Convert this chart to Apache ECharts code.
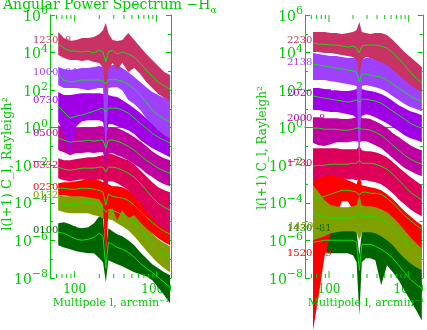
<!DOCTYPE html>
<html><head><meta charset="utf-8">
<script src="https://cdn.jsdelivr.net/npm/echarts@6/dist/echarts.min.js"></script>
<style>html,body{margin:0;padding:0;background:#fff}#c{width:427px;height:330px}</style>
</head><body><div id="c"></div>
<script>
// Multipole l (arcmin^-1) sample points shared by every band
const multipole = [63,74,88,105,123,146,172,200,222,240,258,290,330,381,451,534,632,748,885,1047,1240,1460];
// All band values below are log10 of l(l+1)C_l [Rayleigh^2]: upper edge, centre, lower edge
// ---- left panel ----
const L1230_hi = [5.09,4.78,4.62,4.67,4.78,4.78,4.83,4.99,5.20,5.57,5.04,4.67,4.62,4.67,5.04,4.67,4.30,3.92,3.60,3.28,2.96,2.80];
const L1230_mid = [4.45,4.24,4.08,4.08,4.03,4.08,3.98,4.13,4.03,3.50,4.03,4.13,3.92,4.03,3.92,3.76,3.44,3.07,2.75,2.43,2.22,2.06];
const L1230_lo = [3.87,3.71,3.60,3.60,3.55,3.60,3.50,3.44,3.18,1.58,3.07,3.44,3.07,3.44,2.96,3.18,2.86,2.43,2.11,1.79,1.58,1.42];
const L1000_hi = [3.23,3.12,3.07,3.12,3.18,3.18,3.23,3.28,3.23,2.96,3.28,3.34,3.34,3.18,2.96,2.70,2.43,2.16,1.90,1.74,1.58,1.47];
const L1000_mid = [2.80,2.54,2.43,2.48,2.54,2.54,2.54,2.54,2.48,2.32,2.54,2.59,2.54,2.48,2.32,2.06,1.74,1.36,0.94,0.67,0.46,0.30];
const L1000_lo = [2.27,2.11,2.11,2.11,2.06,2.00,2.06,2.11,2.11,-1.62,2.11,2.16,2.16,2.00,1.47,1.26,0.94,0.51,0.19,-0.13,-0.40,-0.56];
const L0730_hi = [1.90,1.74,1.74,1.79,1.84,1.84,1.84,1.84,1.79,1.74,1.74,1.68,1.63,1.47,1.26,1.04,0.78,0.51,0.24,0.03,-0.13,-0.29];
const L0730_mid = [1.15,0.83,0.51,0.62,0.67,0.78,0.88,0.99,1.04,0.83,1.04,1.04,1.04,0.94,0.78,0.51,0.24,-0.02,-0.29,-0.50,-0.66,-0.82];
const L0730_lo = [0.30,-0.24,-1.35,0.08,0.35,0.40,0.40,0.40,0.30,-0.66,0.19,0.19,0.08,-0.02,-0.13,-0.34,-0.66,-0.88,-1.09,-1.25,-1.41,-1.57];
const L0500_hi = [0.14,-0.02,-0.13,-0.02,0.03,0.03,0.03,0.08,0.08,-0.24,0.03,0.03,-0.02,-0.13,-0.29,-0.50,-0.72,-0.98,-1.25,-1.46,-1.62,-1.73];
const L0500_mid = [-0.56,-0.66,-0.77,-0.72,-0.72,-0.66,-0.72,-0.66,-0.66,-1.09,-0.66,-0.66,-0.72,-0.82,-0.98,-1.20,-1.46,-1.73,-1.94,-2.15,-2.31,-2.42];
const L0500_lo = [-1.20,-1.30,-1.46,-1.35,-1.35,-1.30,-1.35,-1.30,-1.30,-2.26,-1.35,-1.35,-1.46,-1.57,-1.73,-1.94,-2.15,-2.42,-2.63,-2.85,-3.01,-3.11];
const L0332_hi = [-1.62,-1.73,-1.73,-1.67,-1.62,-1.57,-1.57,-1.51,-1.46,-1.62,-1.35,-1.41,-1.51,-1.62,-1.73,-1.94,-2.26,-2.58,-2.90,-3.17,-3.33,-3.43];
const L0332_mid = [-2.10,-2.21,-2.26,-2.21,-2.15,-2.15,-2.15,-2.10,-2.10,-2.37,-2.10,-2.10,-2.15,-2.26,-2.42,-2.63,-2.95,-3.33,-3.70,-4.02,-4.23,-4.39];
const L0332_lo = [-2.69,-2.79,-2.85,-2.79,-2.74,-2.79,-2.79,-2.74,-2.79,-3.22,-2.85,-2.85,-2.95,-3.11,-3.33,-3.65,-4.02,-4.45,-4.82,-5.19,-5.41,-5.57];
const L0230_hi = [-2.95,-2.90,-2.90,-2.85,-2.79,-2.69,-2.74,-2.79,-2.90,-2.79,-3.01,-3.11,-3.11,-3.17,-3.33,-3.59,-3.91,-4.23,-4.50,-4.77,-4.98,-5.14];
const L0230_mid = [-3.22,-3.22,-3.27,-3.27,-3.22,-3.22,-3.27,-3.33,-3.43,-4.13,-3.54,-3.65,-3.70,-3.75,-3.86,-4.13,-4.45,-4.77,-5.03,-5.30,-5.51,-5.67];
const L0230_lo = [-3.59,-3.59,-3.65,-3.65,-3.65,-3.70,-3.75,-3.81,-4.13,-7.22,-4.39,-4.29,-4.93,-4.39,-4.82,-4.66,-5.03,-5.35,-5.62,-5.89,-6.10,-6.26];
const L0132_hi = [-3.59,-3.65,-3.65,-3.59,-3.49,-3.33,-3.43,-3.65,-3.75,-3.86,-3.86,-3.91,-4.02,-4.13,-4.29,-4.55,-4.87,-5.25,-5.62,-5.94,-6.15,-6.31];
const L0132_mid = [-4.02,-4.07,-4.13,-4.07,-4.02,-3.97,-4.02,-4.18,-4.29,-4.50,-4.34,-4.39,-4.50,-4.61,-4.77,-5.03,-5.41,-5.78,-6.15,-6.47,-6.74,-6.95];
const L0132_lo = [-4.39,-4.50,-4.55,-4.55,-4.55,-4.55,-4.66,-4.71,-4.82,-5.03,-4.87,-4.93,-5.09,-5.25,-5.46,-5.78,-6.15,-6.53,-6.90,-7.22,-7.48,-7.70];
const L0100_hi = [-5.09,-5.03,-5.14,-5.30,-5.35,-5.30,-5.09,-4.71,-4.82,-6.53,-5.35,-5.51,-5.67,-5.78,-5.99,-6.26,-6.63,-6.95,-7.27,-7.48,-7.70,-7.86];
const L0100_mid = [-5.57,-5.62,-5.78,-5.94,-5.99,-5.94,-5.83,-5.62,-5.78,-7.48,-6.10,-6.21,-6.37,-6.47,-6.63,-6.90,-7.22,-7.48,-7.70,-7.96,-8.23,-8.50];
const L0100_lo = [-6.26,-6.37,-6.47,-6.58,-6.63,-6.68,-6.68,-6.95,-7.16,-8.23,-7.06,-7.16,-7.27,-7.38,-7.54,-7.70,-7.80,-7.91,-8.12,-8.50,-8.92,-9.35];
// ---- right panel ----
const R2230_hi = [5.09,5.09,5.09,5.04,5.04,4.99,5.04,5.09,5.20,5.63,5.09,5.04,4.99,5.04,5.04,4.93,4.67,4.35,4.03,3.76,3.50,3.23];
const R2230_mid = [4.51,4.45,4.45,4.40,4.40,4.35,4.29,4.35,4.24,3.98,4.35,4.40,4.40,4.40,4.35,4.24,3.98,3.66,3.34,2.96,2.64,2.38];
const R2230_lo = [4.03,4.03,3.98,3.98,3.92,3.87,3.82,3.76,3.60,2.70,3.60,3.76,3.71,3.60,3.50,3.34,3.07,2.80,2.54,2.27,2.06,1.90];
const R2138_hi = [3.98,3.92,3.87,3.82,3.82,3.76,3.71,3.71,3.71,3.50,3.66,3.71,3.71,3.66,3.55,3.39,3.18,2.96,2.75,2.54,2.38,2.22];
const R2138_mid = [3.39,3.34,3.28,3.23,3.18,3.12,3.07,3.02,2.96,2.43,2.86,2.86,2.80,2.75,2.70,2.54,2.32,2.11,1.90,1.68,1.52,1.42];
const R2138_lo = [2.54,2.54,2.54,2.48,2.43,2.38,2.32,2.27,2.22,-2.37,2.22,2.27,2.22,2.16,2.06,1.90,1.68,1.47,1.26,1.10,0.99,0.88];
const R2020_hi = [2.11,2.11,2.06,2.00,2.00,1.95,1.95,2.00,2.06,2.22,2.06,2.00,1.95,1.90,1.79,1.63,1.42,1.20,1.04,0.88,0.78,0.67];
const R2020_mid = [1.68,1.63,1.58,1.52,1.47,1.42,1.36,1.42,1.47,1.36,1.52,1.52,1.47,1.42,1.31,1.10,0.88,0.67,0.46,0.24,0.08,-0.02];
const R2020_lo = [0.94,0.94,0.88,0.83,0.83,0.78,0.72,0.67,0.51,0.14,0.62,0.72,0.67,0.56,0.40,0.24,0.03,-0.18,-0.40,-0.56,-0.66,-0.77];
const R2000_hi = [0.56,0.56,0.51,0.51,0.51,0.46,0.46,0.51,0.56,0.62,0.51,0.51,0.46,0.35,0.19,-0.02,-0.29,-0.50,-0.72,-0.93,-1.09,-1.20];
const R2000_mid = [-0.02,-0.02,-0.08,-0.08,-0.08,-0.13,-0.13,-0.08,-0.02,-0.02,-0.08,-0.08,-0.13,-0.24,-0.40,-0.66,-0.93,-1.20,-1.46,-1.67,-1.83,-1.94];
const R2000_lo = [-0.82,-0.93,-0.98,-0.88,-0.77,-0.77,-0.77,-0.72,-0.72,-0.77,-0.72,-0.72,-0.82,-0.93,-1.09,-1.35,-1.62,-1.89,-2.15,-2.31,-2.47,-2.58];
const R1730_hi = [-1.09,-1.09,-1.09,-1.09,-1.09,-1.14,-1.14,-1.14,-1.14,-0.98,-1.20,-1.25,-1.25,-1.30,-1.41,-1.57,-1.83,-2.10,-2.37,-2.63,-2.85,-3.06];
const R1730_mid = [-2.05,-2.00,-2.00,-1.94,-1.94,-1.94,-1.94,-1.89,-1.89,-1.73,-1.89,-1.89,-1.89,-1.94,-2.05,-2.21,-2.47,-2.79,-3.11,-3.43,-3.65,-3.86];
const R1730_lo = [-2.79,-2.69,-2.58,-2.53,-2.58,-2.69,-2.74,-2.74,-2.79,-2.69,-2.79,-2.79,-2.85,-2.90,-3.01,-3.22,-3.49,-3.81,-4.07,-4.34,-4.55,-4.71];
const R1520_hi = [-2.63,-2.42,-2.26,-2.15,-2.37,-2.63,-2.79,-2.90,-3.01,-2.42,-3.06,-3.11,-3.17,-3.22,-3.33,-3.54,-3.81,-4.13,-4.45,-4.71,-4.98,-5.19];
const R1520_mid = [-3.86,-3.75,-3.65,-3.54,-3.43,-3.33,-3.33,-3.38,-3.43,-3.59,-3.43,-3.43,-3.49,-3.49,-3.54,-3.75,-4.02,-4.34,-4.66,-4.93,-5.19,-5.41];
const R1520_lo = [-10.79,-8.98,-6.84,-5.67,-4.66,-3.91,-3.91,-4.39,-4.61,-5.57,-4.61,-4.50,-4.50,-4.55,-4.66,-4.87,-5.25,-5.73,-6.15,-6.47,-6.74,-6.90];
const R1450_hi = [-3.06,-3.43,-3.86,-4.13,-4.18,-4.23,-4.23,-4.18,-4.13,-3.59,-4.13,-4.18,-4.18,-4.23,-4.34,-4.50,-4.77,-5.09,-5.46,-5.83,-6.15,-6.42];
const R1450_mid = [-4.55,-4.66,-4.77,-4.82,-4.82,-4.82,-4.82,-4.77,-4.71,-4.50,-4.71,-4.71,-4.71,-4.77,-4.87,-5.03,-5.30,-5.62,-5.99,-6.37,-6.68,-6.95];
const R1450_lo = [-5.99,-5.89,-5.78,-5.62,-5.57,-5.51,-5.51,-5.51,-5.57,-5.99,-5.57,-5.57,-5.57,-5.62,-5.78,-5.99,-6.26,-6.63,-6.95,-7.22,-7.43,-7.59];
const R1430_hi = [-5.78,-5.67,-5.62,-5.57,-5.51,-5.46,-5.41,-5.41,-5.57,-6.79,-5.57,-5.41,-5.41,-5.51,-5.67,-5.89,-6.15,-6.47,-6.79,-7.11,-7.32,-7.54];
const R1430_mid = [-6.10,-6.05,-5.99,-5.99,-5.99,-5.99,-5.99,-5.99,-6.10,-7.59,-6.21,-6.21,-6.21,-6.31,-6.47,-6.68,-6.95,-7.32,-7.70,-8.07,-8.34,-8.55];
const R1430_lo = [-6.63,-6.63,-6.63,-6.68,-6.68,-6.68,-6.68,-6.79,-7.16,-9.99,-7.16,-6.95,-6.95,-7.06,-8.39,-7.32,-7.70,-8.12,-8.66,-9.19,-9.72,-10.26];

// axis ticks (x: multipole, y: log10 decades labelled 10^n)
const xMajorTicks = [100, 1000];
const xMinorTicks = [60,70,80,90,200,300,400,500,600,700,800,900];
const yMinExp = -8, yMaxExp = 6, yStepExp = 2;

const GREEN = '#00c800';
const LINE = '#10e010';
const SERIF = '"DejaVu Serif", serif';
const COL = {crimson:'#c83264', lilac:'#a040ff', purple:'#a000e6', magenta:'#be00a0', pink:'#dc005a', red:'#ff0000', olive:'#80a000', dkgreen:'#006400'};

// drawing order: bottom band first
const leftBands = [
  ['0100', L0100_hi, L0100_mid, L0100_lo, COL.dkgreen],
  ['0132', L0132_hi, L0132_mid, L0132_lo, COL.olive],
  ['0230', L0230_hi, L0230_mid, L0230_lo, COL.red],
  ['0332', L0332_hi, L0332_mid, L0332_lo, COL.pink],
  ['0500', L0500_hi, L0500_mid, L0500_lo, COL.magenta],
  ['0730', L0730_hi, L0730_mid, L0730_lo, COL.purple],
  ['1000', L1000_hi, L1000_mid, L1000_lo, COL.lilac],
  ['1230', L1230_hi, L1230_mid, L1230_lo, COL.crimson]
];
const rightBands = [
  ['1430', R1430_hi, R1430_mid, R1430_lo, COL.dkgreen],
  ['1520', R1520_hi, R1520_mid, R1520_lo, COL.red],
  ['1450', R1450_hi, R1450_mid, R1450_lo, COL.olive],
  ['1730', R1730_hi, R1730_mid, R1730_lo, COL.pink],
  ['2000', R2000_hi, R2000_mid, R2000_lo, COL.magenta],
  ['2020', R2020_hi, R2020_mid, R2020_lo, COL.purple],
  ['2138', R2138_hi, R2138_mid, R2138_lo, COL.lilac],
  ['2230', R2230_hi, R2230_mid, R2230_lo, COL.crimson]
];

function bandSeries(g, b) {
  const [name, hi, mid, lo, color] = b;
  return [{
    type: 'custom', name: name + ' band', xAxisIndex: g*2, yAxisIndex: g*2, silent: true, clip: false,
    data: [[100, 0]],
    renderItem: (params, api) => {
      const top = multipole.map((l, i) => api.coord([l, hi[i]]));
      const bot = multipole.map((l, i) => api.coord([l, lo[i]])).reverse();
      return { type: 'polygon', shape: { points: top.concat(bot) }, style: { fill: color } };
    }
  }, {
    type: 'line', name: name, xAxisIndex: g*2, yAxisIndex: g*2, silent: true, clip: false,
    symbol: 'none', lineStyle: { color: LINE, width: 1 },
    data: multipole.map((l, i) => [l, mid[i]])
  }];
}

function tickSeries(g) {
  const data = xMajorTicks.map(v => [v, 7]).concat(xMinorTicks.map(v => [v, 4]));
  return {
    type: 'custom', xAxisIndex: g*2, yAxisIndex: g*2, silent: true, clip: false, data, z: 5,
    renderItem: (params, api) => {
      const l = api.value(0), len = api.value(1);
      const b = api.coord([l, yMinExp]), t = api.coord([l, yMaxExp]);
      return { type: 'group', children: [
        { type: 'line', shape: { x1: b[0], y1: b[1], x2: b[0], y2: b[1] - len }, style: { stroke: GREEN, lineWidth: 1 } },
        { type: 'line', shape: { x1: t[0], y1: t[1], x2: t[0], y2: t[1] + len }, style: { stroke: GREEN, lineWidth: 1 } }
      ]};
    }
  };
}

const grids = [
  { left: 50, top: 15, width: 121, height: 263 },
  { left: 305, top: 15, width: 121, height: 263 }
];

function xAxesFor(g) {
  const base = { type: 'log', logBase: 10, min: 50, max: 1500, gridIndex: g,
    axisLine: { show: true, lineStyle: { color: GREEN, width: 1 } },
    axisTick: { show: false }, splitLine: { show: false } };
  return [
    Object.assign({}, base, { position: 'bottom', axisLabel: { show: true, color: GREEN, fontFamily: SERIF, fontSize: 12, margin: 6,
      formatter: v => (Math.abs(Math.log10(v) - Math.round(Math.log10(v))) < 1e-6 ? String(Math.round(v)) : '') } }),
    Object.assign({}, base, { position: 'top', axisLabel: { show: false } })
  ];
}
function yAxesFor(g) {
  const base = { type: 'value', min: yMinExp, max: yMaxExp, interval: yStepExp, gridIndex: g,
    axisLine: { show: true, lineStyle: { color: GREEN, width: 1 } },
    axisTick: { show: true, inside: true, length: 5, lineStyle: { color: GREEN } },
    minorTick: { show: true, splitNumber: 2, length: 3, lineStyle: { color: GREEN } },
    splitLine: { show: false }, minorSplitLine: { show: false } };
  return [
    Object.assign({}, base, { position: 'left', axisLabel: { show: true, margin: 2,
      formatter: v => '{b|10}{s|' + (v < 0 ? '\u2212' + (-v) : v) + '}',
      rich: { b: { fontSize: 14, fontFamily: SERIF, color: GREEN, verticalAlign: 'bottom' },
              s: { fontSize: 11, fontFamily: SERIF, color: GREEN, verticalAlign: 'bottom', padding: [0, 0, 7, 0] } } } }),
    Object.assign({}, base, { position: 'right', axisLabel: { show: false } })
  ];
}

const series = [];
leftBands.forEach(b => series.push(...bandSeries(0, b)));
rightBands.forEach(b => series.push(...bandSeries(1, b)));
series.push(tickSeries(0), tickSeries(1));

// band labels (time, offset) at the left of each band
const labelFont = '10px "DejaVu Serif", serif';
const labels = [
  ['1230 -8', 33, 40, COL.crimson], ['1000 -84', 33, 72, COL.lilac], ['0730', 33, 100, COL.purple],
  ['0500', 33, 133, COL.magenta], ['0332', 33, 165, COL.pink], ['0230', 33, 187, COL.red],
  ['0132', 33, 195, COL.olive], ['0100 -39', 33, 230, COL.dkgreen],
  ['2230', 287, 40, COL.crimson], ['2138', 287, 62, COL.lilac], ['2020 -37', 287, 93, COL.purple],
  ['2000 -8', 287, 118, COL.magenta], ['1730', 287, 163, COL.pink], ['1520 -79', 287, 253, COL.red],
  ['1430 -81', 287, 228, COL.dkgreen], ['1450 -81', 288, 226, COL.olive]
];
const graphic = labels.map(([t, x, y, c]) => ({ type: 'text', x, y, z: 100,
  style: { text: t, font: labelFont, fill: c, verticalAlign: 'middle', align: 'left' } }));
graphic.push(
  { type: 'text', x: 3, y: 5, z: 100, style: { text: '{a|Angular Power Spectrum \u2212H}{b|\u03b1}', verticalAlign: 'middle', align: 'left',
    rich: { a: { font: '14px "DejaVu Serif", serif', fill: GREEN, verticalAlign: 'bottom' }, b: { font: '9px "DejaVu Serif", serif', fill: GREEN, verticalAlign: 'bottom', padding: [0,0,-3,0] } } } },
  { type: 'text', x: 8, y: 164, rotation: Math.PI / 2, z: 100, style: { text: 'l(l+1) C_l, Rayleigh\u00b2', font: '13px "DejaVu Serif", serif', fill: GREEN, align: 'center', verticalAlign: 'middle' } },
  { type: 'text', x: 263, y: 148, rotation: Math.PI / 2, z: 100, style: { text: 'l(l+1) C_l, Rayleigh\u00b2', font: '12px "DejaVu Serif", serif', fill: GREEN, align: 'center', verticalAlign: 'middle' } },
  { type: 'text', x: 111, y: 303, z: 100, style: { text: 'Multipole l, arcmin\u207b\u00b9', font: '11px "DejaVu Serif", serif', fill: GREEN, align: 'center', verticalAlign: 'middle' } },
  { type: 'text', x: 366, y: 303, z: 100, style: { text: 'Multipole l, arcmin\u207b\u00b9', font: '11px "DejaVu Serif", serif', fill: GREEN, align: 'center', verticalAlign: 'middle' } }
);

const chart = echarts.init(document.getElementById('c'), null, { renderer: 'canvas' });
chart.setOption({
  animation: false,
  backgroundColor: '#ffffff',
  grid: grids,
  xAxis: xAxesFor(0).concat(xAxesFor(1)),
  yAxis: yAxesFor(0).concat(yAxesFor(1)),
  series,
  graphic
});
</script>
</body></html>
